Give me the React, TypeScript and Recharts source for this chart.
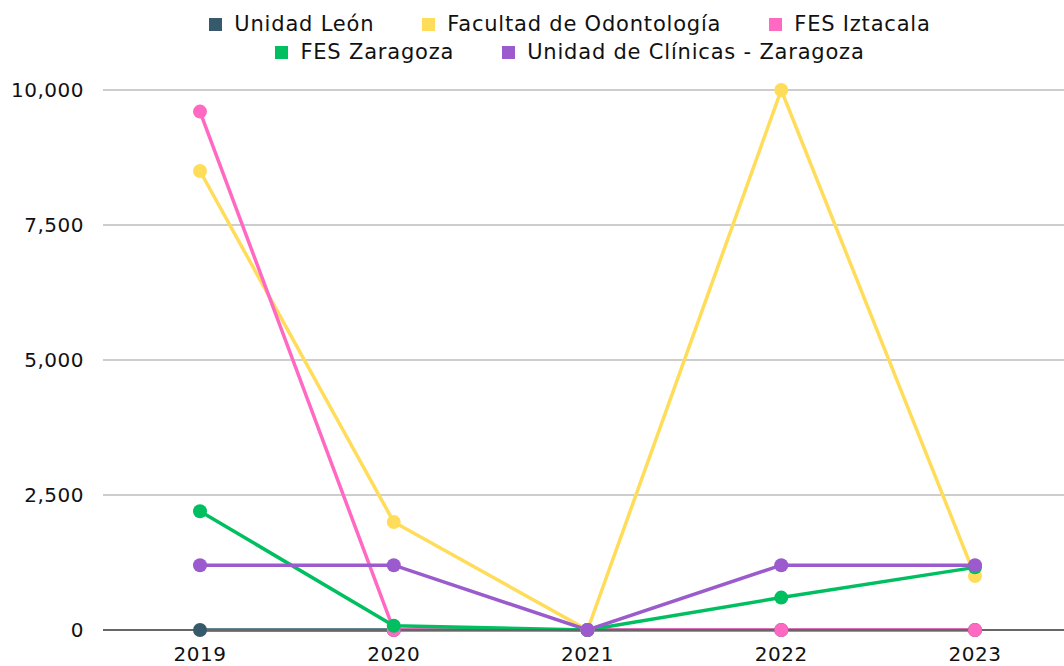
import { LineChart, Line, XAxis, YAxis, CartesianGrid, Legend } from 'recharts';

const years = ['2019', '2020', '2021', '2022', '2023'];
const unidadLeon = [0, 0, 0, 0, 0];
const odontologia = [8500, 2000, 0, 10000, 1000];
const iztacala = [9600, 0, 0, 0, 0];
const zaragoza = [2200, 80, 0, 600, 1160];
const clinicasZaragoza = [1200, 1200, 0, 1200, 1200];
const yTicks = [0, 2500, 5000, 7500, 10000];

const seriesList = [
  { key: 'leon', name: 'Unidad León', color: '#365a6c', values: unidadLeon },
  { key: 'odonto', name: 'Facultad de Odontología', color: '#ffdd5a', values: odontologia },
  { key: 'iztacala', name: 'FES Iztacala', color: '#ff69c2', values: iztacala },
  { key: 'zaragoza', name: 'FES Zaragoza', color: '#00bf60', values: zaragoza },
  { key: 'clinicas', name: 'Unidad de Clínicas - Zaragoza', color: '#9b5acd', values: clinicasZaragoza },
];

const data = years.map((year, i) => {
  const row: Record<string, string | number> = { year };
  seriesList.forEach((s) => {
    row[s.key] = s.values[i];
  });
  return row;
});

const FONT = '"DejaVu Sans", sans-serif';
const tickStyle = { fontSize: 20, fill: '#111', fontFamily: FONT, letterSpacing: 0.5 };

function LegendRows() {
  const rows = [seriesList.slice(0, 3), seriesList.slice(3)];
  return (
    <div style={{ fontFamily: FONT, fontSize: 21, letterSpacing: 0.8, color: '#111' }}>
      {rows.map((row, r) => (
        <div key={r} style={{ display: 'flex', justifyContent: 'center', gap: 48, height: 28, alignItems: 'center' }}>
          {row.map((s) => (
            <div key={s.key} style={{ display: 'flex', alignItems: 'center' }}>
              <span style={{ width: 13, height: 13, background: s.color, marginRight: 12, display: 'inline-block' }} />
              <span>{s.name}</span>
            </div>
          ))}
        </div>
      ))}
    </div>
  );
}

export default function App() {
  return (
    <div style={{ position: 'absolute', left: 0, top: 0, width: 1064, height: 666, overflow: 'hidden', background: '#fff' }}>
      <LineChart width={1080} height={666} data={data} margin={{ top: 90, right: 8, left: 0, bottom: 6 }}>
        <CartesianGrid vertical={false} stroke="#bdbdbd" strokeWidth={1.5} />
        <XAxis
          dataKey="year"
          tickLine={false}
          axisLine={{ stroke: '#666', strokeWidth: 2 }}
          tick={tickStyle}
          tickMargin={11}
          height={30}
          padding={{ left: 97, right: 97 }}
        />
        <YAxis
          domain={[0, 10000]}
          ticks={yTicks}
          width={103}
          axisLine={false}
          tickLine={false}
          tickSize={0}
          tickMargin={19}
          tickFormatter={(v: number) => v.toLocaleString('en-US')}
          tick={tickStyle}
        />
        <Legend
          verticalAlign="middle"
          layout="horizontal"
          wrapperStyle={{ top: 10, left: 70, width: 1000 }}
          content={<LegendRows />}
        />
        {seriesList.map((s) => (
          <Line
            key={s.key}
            type="linear"
            dataKey={s.key}
            name={s.name}
            stroke={s.color}
            strokeWidth={3.5}
            dot={{ r: 7, fill: s.color, stroke: 'none' }}
            activeDot={false}
            isAnimationActive={false}
          />
        ))}
      </LineChart>
    </div>
  );
}
